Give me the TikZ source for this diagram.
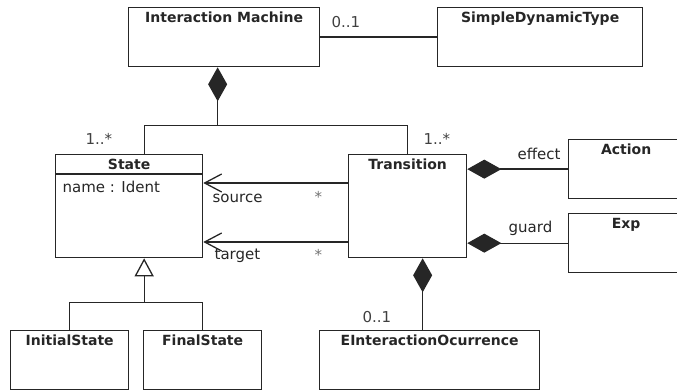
\documentclass[tikz,border=0pt]{standalone}
\usepackage{fontspec}
\setmainfont{DejaVu Sans}
\usetikzlibrary{arrows.meta, positioning, calc}

\begin{document}
\begin{tikzpicture}[x=1pt, y=-1pt, line width=1.3pt, color=black!85,
    every node/.style={font=\fontsize{15}{18}\selectfont},
    umlclass/.style={draw, rectangle, anchor=north west, inner sep=0pt},
    title/.style={anchor=base, font=\fontsize{14}{17}\selectfont\bfseries},
    lbl/.style={anchor=base west, inner sep=0pt},
    mult/.style={lbl, text=black!75},
    comp/.style={{Diamond[length=34pt, width=19pt]}-},
    gen/.style={{Triangle[open, length=18pt, width=19pt, fill=white]}-},
    nav/.style={-{Straight Barb[length=17pt, width=18pt]}}]
  \useasboundingbox (0,0) rectangle (677,390);

  % classes
  \node[umlclass, minimum width=191, minimum height=59] (im) at (128,7) {};
  \node[umlclass, minimum width=205, minimum height=59] (sdt) at (437,7) {};
  \node[umlclass, minimum width=147, minimum height=103] (state) at (55,154) {};
  \node[umlclass, minimum width=118, minimum height=103] (trans) at (348,154) {};
  \node[umlclass, minimum width=115, minimum height=59] (action) at (568,139) {};
  \node[umlclass, minimum width=115, minimum height=59] (exp) at (568,213) {};
  \node[umlclass, minimum width=220, minimum height=58.5] (eio) at (319,330) {};
  \node[umlclass, minimum width=118, minimum height=58.5] (init) at (10,330) {};
  \node[umlclass, minimum width=118, minimum height=58.5] (final) at (143,330) {};

  \foreach \n/\t in {im/Interaction Machine, sdt/SimpleDynamicType, state/State,
      trans/Transition, action/Action, exp/Exp, eio/EInteractionOcurrence,
      init/InitialState, final/FinalState}
    \node[title] (\n-t) at ([yshift=-15.5pt]\n.north) {\t};

  \draw ([yshift=-20pt]state.north west) -- ([yshift=-20pt]state.north east);
  \node[lbl] (attr) at ([xshift=7pt, yshift=-39pt]state.north west) {name : Ident};

  % associations
  \draw (im.east) -- (sdt.west);
  \draw[comp] ([xshift=-6.5pt]im.south) -- ++(0,58) coordinate (jn);
  \draw (jn) -| ([xshift=15pt]state.north);
  \draw (jn) -| (trans.north);

  \draw[nav] ([yshift=-29pt]trans.north west) -- ([yshift=-29pt]state.north east);
  \draw[nav] ([yshift=-88pt]trans.north west) -- ([yshift=-88pt]state.north east);

  \draw[comp] (trans.east |- action.west) -- (action.west);
  \draw[comp] (trans.east |- exp.west) -- (exp.west);
  \draw[comp] ([xshift=15pt]trans.south) -- ([xshift=15pt]trans.south |- eio.north);

  \draw[gen] ([xshift=15pt]state.south) -- ++(0,44) coordinate (gj);
  \draw (gj) -| (init.north);
  \draw (gj) -| (final.north);

  % labels
  \node[mult] (m1) at (331,28) {0..1};
  \node[mult] (m2) at (85,145) {1..*};
  \node[mult] (m3) at (423,145) {1..*};
  \node[mult] (m4) at (362,322) {0..1};
  \node[lbl] (src) at (212,203) {source};
  \node[lbl] (tgt) at (214,259) {target};
  \node[lbl] (eff) at (517,160) {effect};
  \node[lbl] (grd) at (508,232) {guard};
  \node[mult, text=black!55] (s1) at (314,203) {*};
  \node[mult, text=black!55] (s2) at (314,260) {*};
\end{tikzpicture}
\end{document}
